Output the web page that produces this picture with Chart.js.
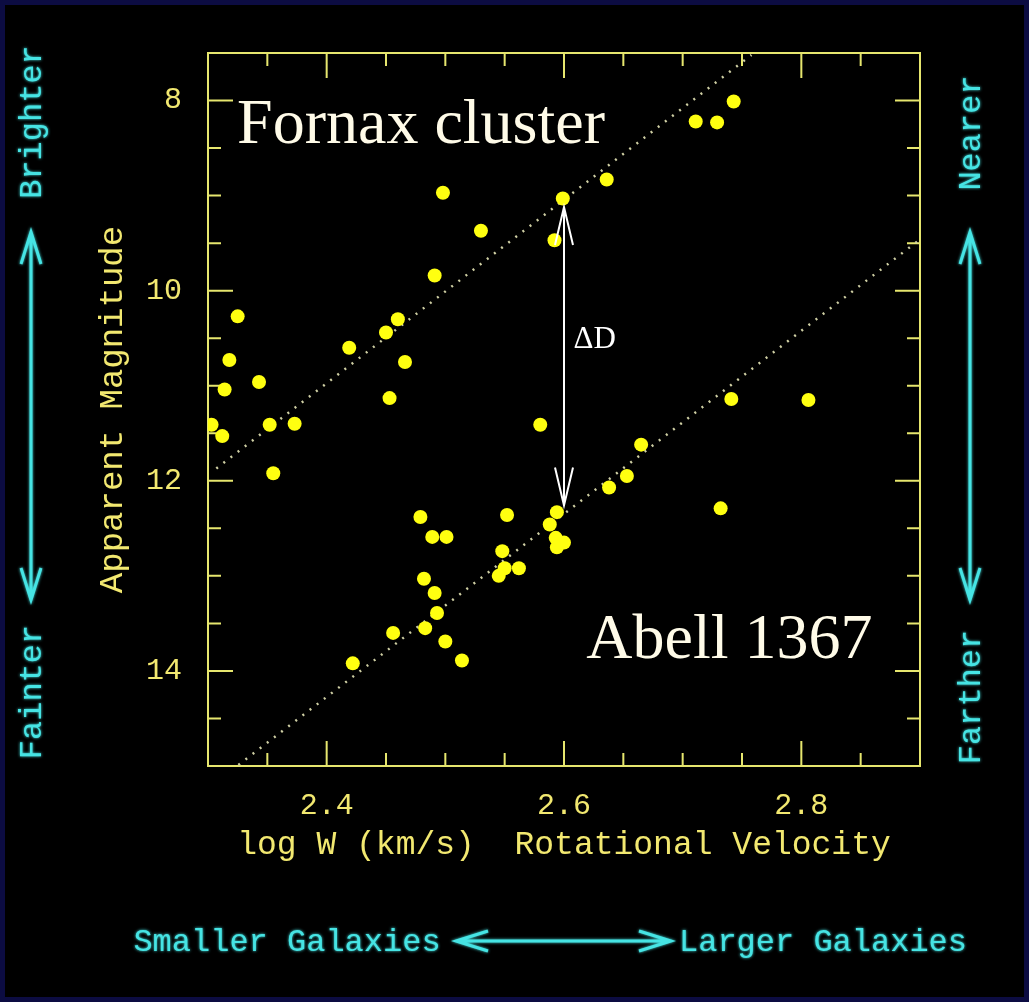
<!DOCTYPE html>
<html>
<head>
<meta charset="utf-8">
<title>Tully-Fisher relation</title>
<script src="https://cdn.jsdelivr.net/npm/chart.js@4.4.1/dist/chart.umd.min.js"></script>
<style>
  html, body { margin: 0; padding: 0; background: #000; }
  canvas { display: block; }
</style>
</head>
<body>
<canvas id="tfChart" width="1029" height="1002"></canvas>
<script>
// log W (km/s) against apparent magnitude
const fornax_x = [2.498, 2.530, 2.491, 2.325, 2.460, 2.450, 2.419, 2.318, 2.466, 2.343, 2.314, 2.453,
                  2.303, 2.352, 2.373, 2.312, 2.355, 2.599, 2.592, 2.636, 2.711, 2.729, 2.743];
const fornax_y = [8.97, 9.37, 9.84, 10.27, 10.30, 10.44, 10.60, 10.73, 10.75, 10.96, 11.04, 11.13,
                  11.41, 11.41, 11.40, 11.53, 11.92, 9.03, 9.47, 8.83, 8.22, 8.23, 8.01];

const abell_x = [2.580, 2.741, 2.806, 2.665, 2.653, 2.638, 2.732, 2.594, 2.588, 2.593, 2.600, 2.594,
                 2.479, 2.552, 2.489, 2.501, 2.548, 2.550, 2.562, 2.545, 2.482, 2.491, 2.493, 2.483,
                 2.456, 2.500, 2.514, 2.422];
const abell_y = [11.41, 11.14, 11.15, 11.62, 11.95, 12.07, 12.29, 12.33, 12.46, 12.60, 12.65, 12.70,
                 12.38, 12.36, 12.59, 12.59, 12.74, 12.92, 12.92, 13.00, 13.03, 13.18, 13.39, 13.55,
                 13.60, 13.69, 13.89, 13.92];

// dotted fit lines (end points)
const fornax_fit_x = [2.307, 2.758];
const fornax_fit_y = [11.87, 7.52];
const abell_fit_x = [2.3256, 2.9];
const abell_fit_y = [14.99, 9.46];

// Delta D arrow at log W = 2.6
const delta_x = 2.6;
const delta_y = [9.12, 12.26];

const x_tick_labels = [2.4, 2.6, 2.8];
const y_tick_labels = [8, 10, 12, 14];
const x_title = 'log W (km/s)  Rotational Velocity';
const y_title = 'Apparent Magnitude';
const cluster_names = ['Fornax cluster', 'Abell 1367'];

const AXIS_COLOUR = '#e6e66e';
const LABEL_COLOUR = '#f2e870';
const POINT_COLOUR = '#ffff10';
const CYAN = '#46e4e4';

Chart.defaults.font.family = '"Liberation Mono", monospace';

function to_points(xs, ys) {
    return xs.map((x, i) => ({x: x, y: ys[i]}));
}

function label_for(v, list, digits) {
    for (const l of list) {
        if (Math.abs(v - l) < 1e-6) return l.toFixed(digits);
    }
    return '';
}

function is_major(v, list) {
    return list.some(l => Math.abs(v - l) < 1e-6);
}

// draws an open double headed arrow
function arrow(ctx, x1, y1, x2, y2, head, half) {
    const ang = Math.atan2(y2 - y1, x2 - x1);
    ctx.beginPath();
    ctx.moveTo(x1, y1);
    ctx.lineTo(x2, y2);
    for (const [tx, ty, a] of [[x1, y1, ang], [x2, y2, ang + Math.PI]]) {
        const bx = tx + Math.cos(a) * head, by = ty + Math.sin(a) * head;
        const nx = -Math.sin(a) * half, ny = Math.cos(a) * half;
        ctx.moveTo(bx + nx, by + ny);
        ctx.lineTo(tx, ty);
        ctx.lineTo(bx - nx, by - ny);
    }
    ctx.stroke();
}

function side_text(ctx, text, x, y, rot) {
    ctx.save();
    ctx.translate(x, y);
    ctx.rotate(rot);
    ctx.fillText(text, 0, 0);
    ctx.restore();
}

const frame_plugin = {
    id: 'frame',
    beforeDraw(chart) {
        const ctx = chart.ctx;
        ctx.save();
        ctx.fillStyle = '#0c0c42';
        ctx.fillRect(0, 0, chart.width, chart.height);
        ctx.fillStyle = '#000';
        ctx.fillRect(5, 5, chart.width - 10, chart.height - 10);
        ctx.restore();
    },
    beforeDatasetsDraw(chart) {
        const {ctx, chartArea: a, scales} = chart;
        ctx.save();
        ctx.strokeStyle = AXIS_COLOUR;
        ctx.lineWidth = 2;
        ctx.strokeRect(a.left, a.top, a.right - a.left, a.bottom - a.top);
        ctx.beginPath();
        scales.x.ticks.forEach(t => {
            const px = scales.x.getPixelForValue(t.value);
            const len = is_major(t.value, x_tick_labels) ? 25 : 13;
            ctx.moveTo(px, a.bottom); ctx.lineTo(px, a.bottom - len);
            ctx.moveTo(px, a.top); ctx.lineTo(px, a.top + len);
        });
        scales.y.ticks.forEach(t => {
            const py = scales.y.getPixelForValue(t.value);
            const len = is_major(t.value, y_tick_labels) ? 25 : 13;
            ctx.moveTo(a.left, py); ctx.lineTo(a.left + len, py);
            ctx.moveTo(a.right, py); ctx.lineTo(a.right - len, py);
        });
        ctx.stroke();
        ctx.restore();
    },
    afterDatasetsDraw(chart) {
        const {ctx, scales} = chart;
        const x = scales.x, y = scales.y;
        ctx.save();
        // Delta D arrow
        ctx.strokeStyle = '#ffffff';
        ctx.lineWidth = 2;
        arrow(ctx, x.getPixelForValue(delta_x), y.getPixelForValue(delta_y[0]),
              x.getPixelForValue(delta_x), y.getPixelForValue(delta_y[1]), 38, 9);
        ctx.fillStyle = '#ffffff';
        ctx.font = '31px "Liberation Serif"';
        ctx.textBaseline = 'middle';
        ctx.fillText('\u0394D', x.getPixelForValue(2.6080), y.getPixelForValue(10.52));
        // cluster names
        ctx.fillStyle = '#fffbe8';
        ctx.font = '64px "Liberation Serif"';
        ctx.textBaseline = 'alphabetic';
        ctx.fillText(cluster_names[0], x.getPixelForValue(2.3245), y.getPixelForValue(8.448));
        ctx.fillText(cluster_names[1], x.getPixelForValue(2.6188), y.getPixelForValue(13.865));
        ctx.restore();
    },
    afterDraw(chart) {
        const ctx = chart.ctx;
        ctx.save();
        ctx.fillStyle = CYAN;
        ctx.strokeStyle = CYAN;
        ctx.shadowColor = CYAN;
        ctx.shadowBlur = 3;
        ctx.font = '32px "Liberation Mono"';
        ctx.textAlign = 'center';
        ctx.textBaseline = 'middle';
        side_text(ctx, 'Brighter', 33, 122, -Math.PI / 2);
        side_text(ctx, 'Fainter', 33, 692, -Math.PI / 2);
        side_text(ctx, 'Nearer', 972, 133, -Math.PI / 2);
        side_text(ctx, 'Farther', 972, 697, -Math.PI / 2);
        side_text(ctx, 'Smaller Galaxies', 287, 943, 0);
        side_text(ctx, 'Larger Galaxies', 823, 943, 0);
        ctx.lineWidth = 3;
        arrow(ctx, 31, 232, 31, 600, 32, 10);
        arrow(ctx, 970, 232, 970, 600, 32, 10);
        arrow(ctx, 456, 941, 671, 941, 32, 10);
        ctx.restore();
    }
};

const point_style = {
    showLine: false,
    backgroundColor: POINT_COLOUR,
    borderColor: POINT_COLOUR,
    pointRadius: 7,
    pointBorderWidth: 0
};
const fit_style = {
    showLine: true,
    borderColor: '#cfcfa4',
    borderWidth: 2.5,
    borderDash: [2, 7],
    pointRadius: 0,
    fill: false
};

const ctx = document.getElementById('tfChart').getContext('2d');
new Chart(ctx, {
    type: 'scatter',
    data: {
        datasets: [
            Object.assign({label: cluster_names[0], data: to_points(fornax_x, fornax_y)}, point_style),
            Object.assign({label: cluster_names[1], data: to_points(abell_x, abell_y)}, point_style),
            Object.assign({label: 'Fornax fit', data: to_points(fornax_fit_x, fornax_fit_y)}, fit_style),
            Object.assign({label: 'Abell fit', data: to_points(abell_fit_x, abell_fit_y)}, fit_style)
        ]
    },
    options: {
        responsive: false,
        animation: false,
        layout: {
            padding: {left: 86, right: 109, top: 53, bottom: 136}
        },
        plugins: {
            legend: {display: false},
            tooltip: {enabled: false}
        },
        scales: {
            x: {
                type: 'linear',
                min: 2.3,
                max: 2.9,
                grid: {display: false},
                border: {display: false},
                ticks: {
                    stepSize: 0.05,
                    autoSkip: false,
                    maxRotation: 0,
                    padding: 14,
                    color: LABEL_COLOUR,
                    font: {size: 30},
                    callback: v => label_for(v, x_tick_labels, 1)
                },
                title: {
                    display: true,
                    text: x_title,
                    color: LABEL_COLOUR,
                    font: {size: 33},
                    padding: {top: 0, bottom: 1}
                },
                afterFit: s => { s.height = 100; }
            },
            y: {
                type: 'linear',
                reverse: true,
                min: 7.5,
                max: 15,
                grid: {display: false},
                border: {display: false},
                ticks: {
                    stepSize: 0.5,
                    autoSkip: false,
                    padding: 18,
                    color: LABEL_COLOUR,
                    font: {size: 30},
                    callback: v => label_for(v, y_tick_labels, 0)
                },
                title: {
                    display: true,
                    text: y_title,
                    color: LABEL_COLOUR,
                    font: {size: 34},
                    padding: {top: 7, bottom: 0}
                },
                afterFit: s => { s.width = 122; }
            }
        }
    },
    plugins: [frame_plugin]
});
</script>
</body>
</html>
